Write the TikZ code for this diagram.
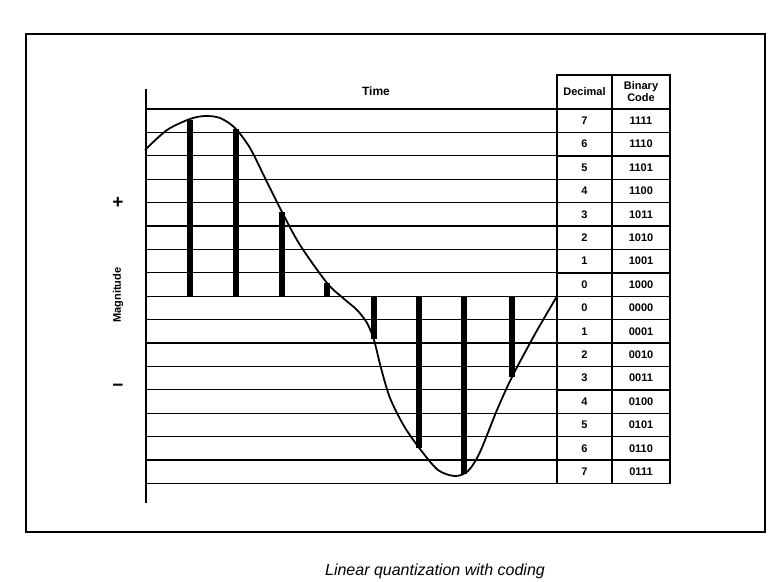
\documentclass[tikz,border=0pt]{standalone}
\usepackage{fontspec}
\setmainfont{Liberation Sans}
\usetikzlibrary{positioning}

\tikzstyle{deccell} = [rectangle, minimum width=55pt, minimum height=23.4pt, inner sep=0pt, outer sep=0pt, text centered, draw=black, line width=1.4pt, font=\fontsize{11}{12}\selectfont\bfseries]
\tikzstyle{bincell} = [deccell, minimum width=58pt]
\tikzstyle{head} = [minimum height=34pt, align=center]
\tikzstyle{grid} = [line width=1.3pt]
\tikzstyle{sample} = [line width=6pt]
\tikzstyle{wave} = [line width=1.8pt]
\tikzstyle{frame} = [line width=1.6pt]

\begin{document}
\begin{tikzpicture}[x=1pt, y=-1pt]
\useasboundingbox (0,0) rectangle (771,581);
\draw [frame] (26,34) rectangle (765,532);

% table
\node (dechead) [deccell, head] at (584.5,92) {Decimal};
\node (binhead) [bincell, head, right=0pt of dechead] {Binary\\Code};
\node (dec7p) [deccell, below=0pt of dechead] {7};
\node (dec6p) [deccell, below=0pt of dec7p] {6};
\node (dec5p) [deccell, below=0pt of dec6p] {5};
\node (dec4p) [deccell, below=0pt of dec5p] {4};
\node (dec3p) [deccell, below=0pt of dec4p] {3};
\node (dec2p) [deccell, below=0pt of dec3p] {2};
\node (dec1p) [deccell, below=0pt of dec2p] {1};
\node (dec0p) [deccell, below=0pt of dec1p] {0};
\node (dec0n) [deccell, below=0pt of dec0p] {0};
\node (dec1n) [deccell, below=0pt of dec0n] {1};
\node (dec2n) [deccell, below=0pt of dec1n] {2};
\node (dec3n) [deccell, below=0pt of dec2n] {3};
\node (dec4n) [deccell, below=0pt of dec3n] {4};
\node (dec5n) [deccell, below=0pt of dec4n] {5};
\node (dec6n) [deccell, below=0pt of dec5n] {6};
\node (dec7n) [deccell, below=0pt of dec6n] {7};
\node (bin1111) [bincell, right=0pt of dec7p] {1111};
\node (bin1110) [bincell, right=0pt of dec6p] {1110};
\node (bin1101) [bincell, right=0pt of dec5p] {1101};
\node (bin1100) [bincell, right=0pt of dec4p] {1100};
\node (bin1011) [bincell, right=0pt of dec3p] {1011};
\node (bin1010) [bincell, right=0pt of dec2p] {1010};
\node (bin1001) [bincell, right=0pt of dec1p] {1001};
\node (bin1000) [bincell, right=0pt of dec0p] {1000};
\node (bin0000) [bincell, right=0pt of dec0n] {0000};
\node (bin0001) [bincell, right=0pt of dec1n] {0001};
\node (bin0010) [bincell, right=0pt of dec2n] {0010};
\node (bin0011) [bincell, right=0pt of dec3n] {0011};
\node (bin0100) [bincell, right=0pt of dec4n] {0100};
\node (bin0101) [bincell, right=0pt of dec5n] {0101};
\node (bin0110) [bincell, right=0pt of dec6n] {0110};
\node (bin0111) [bincell, right=0pt of dec7n] {0111};

% axis and labels
\coordinate (axtop) at (146,89);
\coordinate (axbot) at (146,503);
\draw [grid] (axtop) -- (axbot);
\node (time) at (376,91) [font=\fontsize{12}{14}\selectfont\bfseries] {Time};
\node (plus) at (118,203) [font=\fontsize{19}{21}\selectfont\bfseries] {+};
\node (magn) at (118,295) [rotate=90, font=\fontsize{11}{13}\selectfont\bfseries] {Magnitude};
\node (minus) at (118,388) [font=\fontsize{19}{21}\selectfont\bfseries] {−};

% quantization levels
\draw [grid] (dec7p.north west) -- (dec7p.north west -| axtop);
\draw [grid] (dec6p.north west) -- (dec6p.north west -| axtop);
\draw [grid] (dec5p.north west) -- (dec5p.north west -| axtop);
\draw [grid] (dec4p.north west) -- (dec4p.north west -| axtop);
\draw [grid] (dec3p.north west) -- (dec3p.north west -| axtop);
\draw [grid] (dec2p.north west) -- (dec2p.north west -| axtop);
\draw [grid] (dec1p.north west) -- (dec1p.north west -| axtop);
\draw [grid] (dec0p.north west) -- (dec0p.north west -| axtop);
\draw [grid] (dec0n.north west) -- (dec0n.north west -| axtop);
\draw [grid] (dec1n.north west) -- (dec1n.north west -| axtop);
\draw [grid] (dec2n.north west) -- (dec2n.north west -| axtop);
\draw [grid] (dec3n.north west) -- (dec3n.north west -| axtop);
\draw [grid] (dec4n.north west) -- (dec4n.north west -| axtop);
\draw [grid] (dec5n.north west) -- (dec5n.north west -| axtop);
\draw [grid] (dec6n.north west) -- (dec6n.north west -| axtop);
\draw [grid] (dec7n.north west) -- (dec7n.north west -| axtop);
\draw [grid] (dec7n.south west) -- (dec7n.south west -| axtop);

% samples
\coordinate (s1) at (190,119.5);
\coordinate (s2) at (235.5,129);
\coordinate (s3) at (282,212);
\coordinate (s4) at (327,283);
\coordinate (s5) at (373.5,339);
\coordinate (s6) at (419,448);
\coordinate (s7) at (463.5,473.5);
\coordinate (s8) at (512,377);
\draw [sample] (s1) -- (s1 |- dec0n.north west);
\draw [sample] (s2) -- (s2 |- dec0n.north west);
\draw [sample] (s3) -- (s3 |- dec0n.north west);
\draw [sample] (s4) -- (s4 |- dec0n.north west);
\draw [sample] (s5) -- (s5 |- dec0n.north west);
\draw [sample] (s6) -- (s6 |- dec0n.north west);
\draw [sample] (s7) -- (s7 |- dec0n.north west);
\draw [sample] (s8) -- (s8 |- dec0n.north west);

% signal
\draw [wave] plot [smooth, tension=0.5] coordinates {(145,150) (167,130) (190,119) (205,116) (220,118) (235,128) (250,148) (265,178) (282,212) (300,245) (327,283) (343,298) (357,310) (367,323) (374,340) (381,368) (390,398) (404,426) (420,449) (438,470) (455,476) (468,471) (480,452) (497,410) (512,377) (535,334) (557,296.2)};

\node (caption) at (435,571) [font=\fontsize{16}{19}\selectfont\itshape] {Linear quantization with coding};
\end{tikzpicture}
\end{document}
